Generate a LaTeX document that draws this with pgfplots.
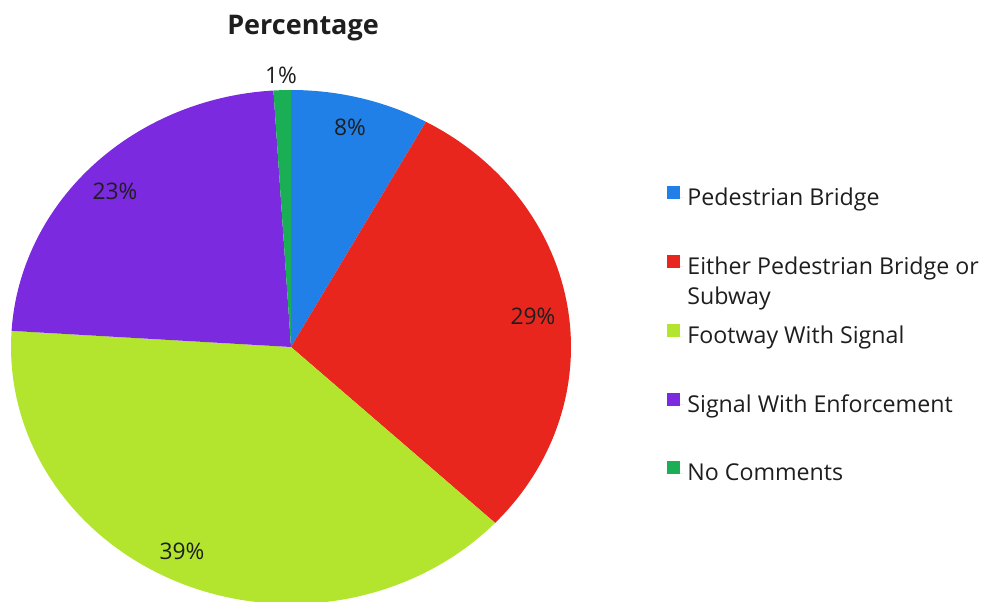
\documentclass[border=0pt]{standalone}
\usepackage{pgfplots}
\pgfplotsset{compat=1.18}
\usepackage{fontspec}
\setmainfont{Open Sans}
\definecolor{cBlue}{HTML}{2080E8}
\definecolor{cRed}{HTML}{E8261E}
\definecolor{cLime}{HTML}{B3E52E}
\definecolor{cPurple}{HTML}{7B2ADF}
\definecolor{cGreen}{HTML}{1BAF55}
\definecolor{cText}{HTML}{1E1E1E}
% percentages: Pedestrian Bridge 8, Either 29, Footway 39, Signal 23, No Comments 1
\begin{document}
\begin{tikzpicture}
\begin{axis}[
  scale only axis, width=495pt, height=300.5pt,
  xmin=0, xmax=990, ymin=0, ymax=601,
  hide axis, clip=true,
  every axis plot/.append style={draw=none, samples=90, variable=\t},
  legend style={at={(axis cs:667,418)}, anchor=north west, draw=none, fill=none,
    font=\fontsize{11.6}{13.5}\selectfont\color{cText}, row sep=20pt,
    cells={anchor=west}, inner sep=0pt},
  legend image code/.code={\path[#1] (0pt,-0.4pt) rectangle (6.5pt,6.1pt); \path (0pt,0pt) -- (8pt,0pt);},
]
\addplot[fill=cBlue, domain={90-3.6*8}:{90}]
  ({291+280*cos(\t)},{254+257*sin(\t)}) -- (axis cs:291,254) -- cycle;
\addlegendentry{Pedestrian Bridge}
\addplot[fill=cRed, domain={90-3.6*(8+29)}:{90-3.6*8}]
  ({291+280*cos(\t)},{254+257*sin(\t)}) -- (axis cs:291,254) -- cycle;
\addlegendentry{\raisebox{0pt}[\height][0pt]{\begin{tabular}[t]{@{}l@{}}Either Pedestrian Bridge or\\[1.5pt]Subway\end{tabular}}}
\addplot[fill=cLime, domain={90-3.6*(8+29+39)}:{90-3.6*(8+29)}]
  ({291+280*cos(\t)},{254+257*sin(\t)}) -- (axis cs:291,254) -- cycle;
\addlegendentry{Footway With Signal}
\addplot[fill=cPurple, domain={90-3.6*(8+29+39+23)}:{90-3.6*(8+29+39)}]
  ({291+280*cos(\t)},{254+257*sin(\t)}) -- (axis cs:291,254) -- cycle;
\addlegendentry{Signal With Enforcement}
\addplot[fill=cGreen, domain={90-3.6*(8+29+39+23+1)}:{90-3.6*(8+29+39+23)}]
  ({291+280*cos(\t)},{254+257*sin(\t)}) -- (axis cs:291,254) -- cycle;
\addlegendentry{No Comments}
\node[font=\fontsize{11.4}{13}\selectfont\color{cText}] at (axis cs:281,526) {1\%};
\node[font=\fontsize{11.4}{13}\selectfont\color{cText}] at (axis cs:350,474) {8\%};
\node[font=\fontsize{11.4}{13}\selectfont\color{cText}] at (axis cs:533,285) {29\%};
\node[font=\fontsize{11.4}{13}\selectfont\color{cText}] at (axis cs:182,50) {39\%};
\node[font=\fontsize{11.4}{13}\selectfont\color{cText}] at (axis cs:115,410) {23\%};
\node[font=\bfseries\fontsize{13.5}{15}\selectfont\color{cText}] at (axis cs:303,573) {Percentage};
\end{axis}
\pgfresetboundingbox
\path (0,0) rectangle (495pt,300.5pt);
\end{tikzpicture}
\end{document}
